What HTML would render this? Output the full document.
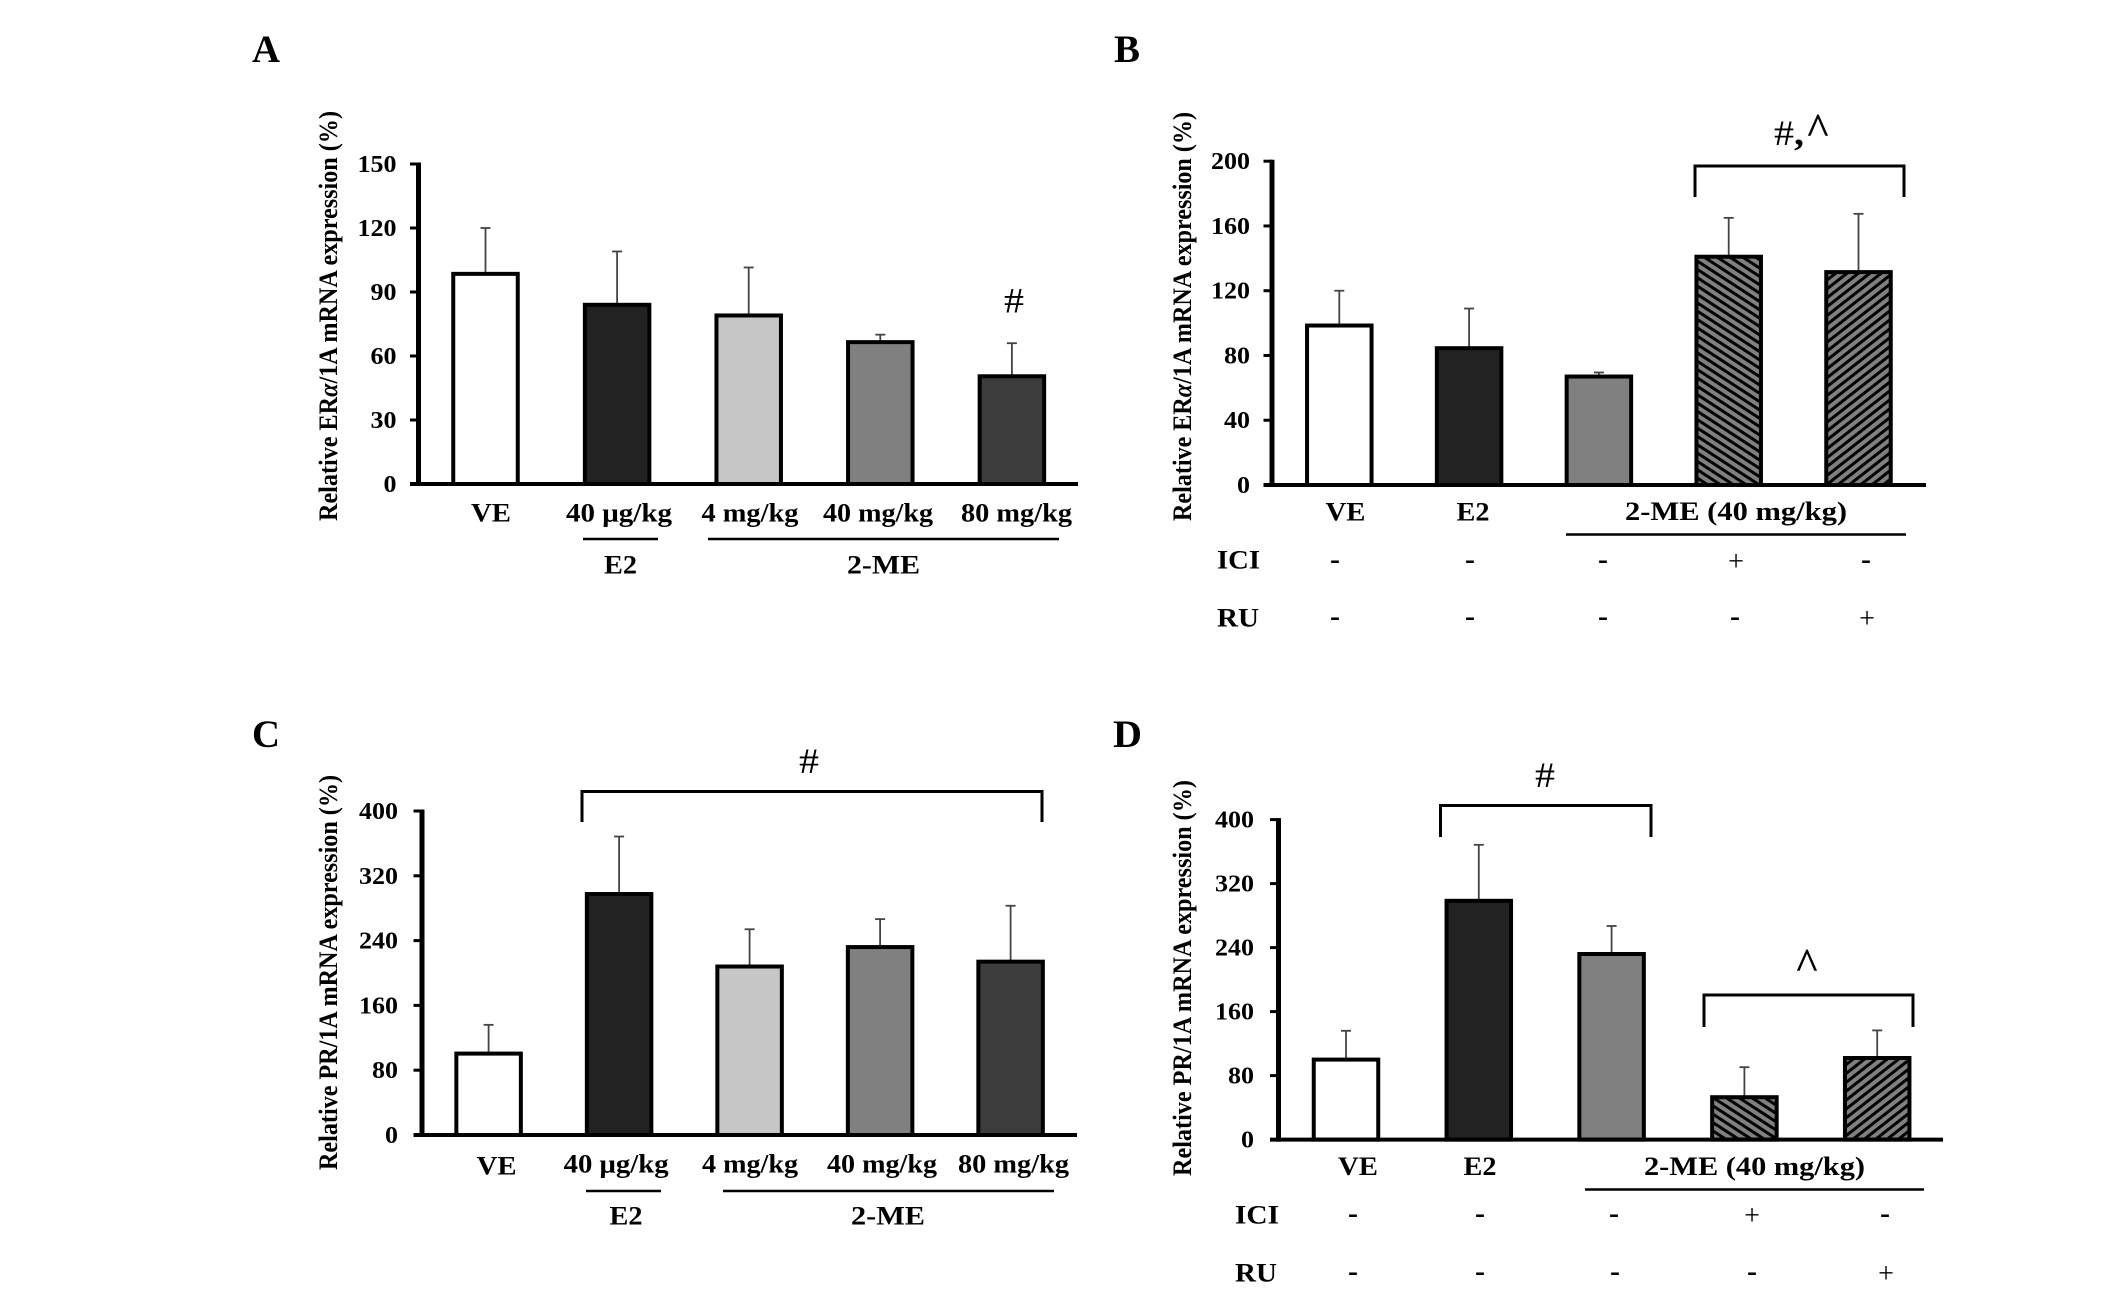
<!DOCTYPE html>
<html>
<head>
<meta charset="utf-8">
<title>Relative mRNA expression bar charts</title>
<style>
html,body{margin:0;padding:0;background:#fff;overflow:hidden;}
svg{display:block;}
text{font-family:"Liberation Serif",serif;fill:#000;}
.l{font-weight:bold;font-size:26px;}
.y{font-weight:bold;font-size:26px;}
.p{font-weight:bold;font-size:39px;}
.m{font-weight:bold;font-size:30px;text-anchor:middle;}
.q{font-size:28px;text-anchor:middle;}
.h{font-size:36px;}
.c{font-size:44px;text-anchor:middle;stroke:#000;stroke-width:.5;}
.r{fill:none;stroke:#000;stroke-width:3;}
.u{stroke:#000;stroke-width:2.6;}
</style>
</head>
<body>
<svg id="figure" xmlns="http://www.w3.org/2000/svg" width="2126" height="1305" viewBox="0 0 2126 1305">
<defs>
<pattern id="hatch-ici" patternUnits="userSpaceOnUse" width="7" height="7" patternTransform="rotate(33)">
<rect width="7" height="7" fill="#808080"/><rect width="7" height="3" fill="#000"/>
</pattern>
<pattern id="hatch-ru" patternUnits="userSpaceOnUse" width="7" height="7" patternTransform="rotate(-38)">
<rect width="7" height="7" fill="#808080"/><rect width="7" height="3" fill="#000"/>
</pattern>
</defs>
<rect width="2126" height="1305" fill="#fff"/>

<text class="p" x="252" y="62" textLength="28" lengthAdjust="spacingAndGlyphs">A</text>
<text class="p" x="1114" y="62" textLength="26" lengthAdjust="spacingAndGlyphs">B</text>
<text class="p" x="252" y="747" textLength="28" lengthAdjust="spacingAndGlyphs">C</text>
<text class="p" x="1113" y="747" textLength="29" lengthAdjust="spacingAndGlyphs">D</text>

<text class="y" transform="translate(337,521) rotate(-90)" textLength="410" lengthAdjust="spacingAndGlyphs">Relative ER<tspan font-style="italic">α</tspan>/1A mRNA expression (%)</text>
<text class="y" transform="translate(1191,521) rotate(-90)" textLength="409" lengthAdjust="spacingAndGlyphs">Relative ER<tspan font-style="italic">α</tspan>/1A mRNA expression (%)</text>
<text class="y" transform="translate(337,1170) rotate(-90)" textLength="395" lengthAdjust="spacingAndGlyphs">Relative PR/1A mRNA expression (%)</text>
<text class="y" transform="translate(1191,1176) rotate(-90)" textLength="396" lengthAdjust="spacingAndGlyphs">Relative PR/1A mRNA expression (%)</text>

<!-- Panel A labels -->
<g>
<text class="l" x="471" y="521.5" textLength="40" lengthAdjust="spacingAndGlyphs">VE</text>
<text class="l" x="566" y="521.5" textLength="106" lengthAdjust="spacingAndGlyphs">40 μg/kg</text>
<text class="l" x="701.5" y="521.5" textLength="97" lengthAdjust="spacingAndGlyphs">4 mg/kg</text>
<text class="l" x="823" y="521.5" textLength="110" lengthAdjust="spacingAndGlyphs">40 mg/kg</text>
<text class="l" x="961" y="521.5" textLength="111" lengthAdjust="spacingAndGlyphs">80 mg/kg</text>
<line class="u" x1="583" x2="658" y1="539" y2="539"/>
<line class="u" x1="708" x2="1059" y1="539" y2="539"/>
<text class="l" x="604" y="573.5" textLength="33" lengthAdjust="spacingAndGlyphs">E2</text>
<text class="l" x="847" y="573.5" textLength="73" lengthAdjust="spacingAndGlyphs">2-ME</text>
</g>
<text class="h" x="1004" y="312.5" textLength="20" lengthAdjust="spacingAndGlyphs">#</text>

<!-- Panel B labels -->
<g>
<text class="l" x="1325.5" y="520.5" textLength="40" lengthAdjust="spacingAndGlyphs">VE</text>
<text class="l" x="1456.5" y="520.5" textLength="33" lengthAdjust="spacingAndGlyphs">E2</text>
<text class="l" x="1625" y="520" textLength="222" lengthAdjust="spacingAndGlyphs">2-ME (40 mg/kg)</text>
<line class="u" x1="1566" x2="1906" y1="534.5" y2="534.5"/>
<text class="l" x="1217" y="568.5" textLength="43" lengthAdjust="spacingAndGlyphs">ICI</text>
<text class="l" x="1217" y="626.5" textLength="42" lengthAdjust="spacingAndGlyphs">RU</text>
<text class="m" x="1335" y="568.5">-</text>
<text class="m" x="1470" y="568.5">-</text>
<text class="m" x="1603" y="568.5">-</text>
<text class="q" x="1736" y="570.5">+</text>
<text class="m" x="1866" y="568.5">-</text>
<text class="m" x="1335" y="625.5">-</text>
<text class="m" x="1470" y="625.5">-</text>
<text class="m" x="1603" y="625.5">-</text>
<text class="m" x="1735" y="625.5">-</text>
<text class="q" x="1867" y="627.5">+</text>
</g>
<path class="r" d="M1695 197V166H1904V197"/>
<text class="h" x="1774" y="145" textLength="30" lengthAdjust="spacingAndGlyphs">#<tspan font-weight="bold">,</tspan></text>
<text class="c" x="1818" y="144">^</text>

<!-- Panel C labels -->
<g>
<text class="l" x="476.6" y="1174.5" textLength="40" lengthAdjust="spacingAndGlyphs">VE</text>
<text class="l" x="563.6" y="1172.5" textLength="105" lengthAdjust="spacingAndGlyphs">40 μg/kg</text>
<text class="l" x="702" y="1172.5" textLength="96" lengthAdjust="spacingAndGlyphs">4 mg/kg</text>
<text class="l" x="827" y="1172.5" textLength="110" lengthAdjust="spacingAndGlyphs">40 mg/kg</text>
<text class="l" x="958" y="1172.5" textLength="111" lengthAdjust="spacingAndGlyphs">80 mg/kg</text>
<line class="u" x1="586" x2="661" y1="1191" y2="1191"/>
<line class="u" x1="723" x2="1054" y1="1191" y2="1191"/>
<text class="l" x="609.5" y="1224.5" textLength="33" lengthAdjust="spacingAndGlyphs">E2</text>
<text class="l" x="851" y="1224.5" textLength="74" lengthAdjust="spacingAndGlyphs">2-ME</text>
</g>
<path class="r" d="M582 822V791.5H1042V822"/>
<text class="h" x="799" y="773" textLength="20" lengthAdjust="spacingAndGlyphs">#</text>

<!-- Panel D labels -->
<g>
<text class="l" x="1338" y="1175" textLength="40" lengthAdjust="spacingAndGlyphs">VE</text>
<text class="l" x="1463.5" y="1175" textLength="33" lengthAdjust="spacingAndGlyphs">E2</text>
<text class="l" x="1644" y="1175" textLength="221" lengthAdjust="spacingAndGlyphs">2-ME (40 mg/kg)</text>
<line class="u" x1="1585" x2="1924" y1="1189.5" y2="1189.5"/>
<text class="l" x="1235" y="1223.5" textLength="44" lengthAdjust="spacingAndGlyphs">ICI</text>
<text class="l" x="1235" y="1281.5" textLength="42" lengthAdjust="spacingAndGlyphs">RU</text>
</g>
<path class="r" d="M1440.5 837V805.5H1651V837"/>
<text class="h" x="1535" y="787" textLength="20" lengthAdjust="spacingAndGlyphs">#</text>
<path class="r" d="M1704 1027V995H1913V1027"/>
<text class="c" x="1807" y="979">^</text>
</svg>

<script>
/* Chart data */
const panelATicks = [0, 30, 60, 90, 120, 150];
const panelAGroups = ['VE', 'E2 40 ug/kg', '2-ME 4 mg/kg', '2-ME 40 mg/kg', '2-ME 80 mg/kg'];
const panelAValues = [98.5, 84, 79, 66.5, 50.5];
const panelAErrorTops = [120, 109, 101.5, 70, 66];

const panelBTicks = [0, 40, 80, 120, 160, 200];
const panelBGroups = ['VE', 'E2', '2-ME', '2-ME + ICI', '2-ME + RU'];
const panelBValues = [98.5, 84.5, 67, 141, 131.5];
const panelBErrorTops = [120, 109, 69.5, 165, 167.5];

const panelCTicks = [0, 80, 160, 240, 320, 400];
const panelCGroups = ['VE', 'E2 40 ug/kg', '2-ME 4 mg/kg', '2-ME 40 mg/kg', '2-ME 80 mg/kg'];
const panelCValues = [100.5, 297.5, 208, 232, 214];
const panelCErrorTops = [136, 368.5, 254, 266.5, 283];

const panelDTicks = [0, 80, 160, 240, 320, 400];
const panelDGroups = ['VE', 'E2', '2-ME', '2-ME + ICI', '2-ME + RU'];
const panelDValues = [100, 298.5, 232, 53, 102];
const panelDErrorTops = [136, 368.5, 267, 90.5, 136.5];

const panelDIciMarks = ['-', '-', '-', '+', '-'];
const panelDRuMarks = ['-', '-', '-', '-', '+'];

const fillsDose = ['#ffffff', '#222222', '#c6c6c6', '#808080', '#3c3c3c'];
const fillsInhibitor = ['#ffffff', '#222222', '#808080', 'url(#hatch-ici)', 'url(#hatch-ru)'];

const SVG_NS = 'http://www.w3.org/2000/svg';
const fig = document.getElementById('figure');

function make(tag, parent) {
  const el = document.createElementNS(SVG_NS, tag);
  parent.appendChild(el);
  return el;
}
function set(el, attrs) {
  for (const k in attrs) el.setAttribute(k, attrs[k]);
  return el;
}

function drawPanel(id, layout, ticks, groups, values, errorTops, fills) {
  const maxTick = ticks[ticks.length - 1];
  const yScale = v => layout.y0 - (v / maxTick) * (layout.y0 - layout.yMax);
  const xScale = i => layout.first + i * layout.step;
  const barWidth = 64.5;

  const g = make('g', fig);
  
  

  groups.forEach((name, i) => {
    const errLine = make('line', g);
    
    
    set(errLine, {x1: xScale(i), x2: xScale(i), y1: yScale(values[i]), y2: yScale(errorTops[i]), stroke: '#444', 'stroke-width': 1.8});
    const errCap = make('line', g);
    
    
    set(errCap, {x1: xScale(i) - 5, x2: xScale(i) + 5, y1: yScale(errorTops[i]), y2: yScale(errorTops[i]), stroke: '#444', 'stroke-width': 1.8});
    const bar = make('rect', g);
    
    
    set(bar, {x: xScale(i) - barWidth / 2, y: yScale(values[i]), width: barWidth, height: layout.y0 - yScale(values[i]), fill: fills[i], stroke: '#000', 'stroke-width': 4});
  });

  const yAxis = make('line', g);
  
  
  set(yAxis, {x1: layout.axisX, x2: layout.axisX, y1: layout.yMax - 1.5, y2: layout.y0 + 2, stroke: '#000', 'stroke-width': 5});

  const xAxis = make('line', g);
  
  
  set(xAxis, {x1: layout.axisX - 8.5, x2: layout.xEnd, y1: layout.y0, y2: layout.y0, stroke: '#000', 'stroke-width': 4});

  ticks.forEach(t => {
    const tick = make('line', g);
    
    
    set(tick, {x1: layout.axisX - 8.5, x2: layout.axisX, y1: yScale(t), y2: yScale(t), stroke: '#000', 'stroke-width': 3});
    const label = make('text', g);
    
    
    set(label, {x: layout.labelX, y: yScale(t) + 8, 'text-anchor': 'end', 'font-weight': 'bold', 'font-size': 24, textLength: String(t).length * 13, lengthAdjust: 'spacingAndGlyphs'});
    label.textContent = t;
  });
}

function drawMarks(marks, rowName, y, xs) {
  marks.forEach((mark, i) => {
    const t = make('text', fig);
    
    
    t.setAttribute('class', mark === '+' ? 'q' : 'm');
    t.setAttribute('x', xs[i]);
    t.setAttribute('y', mark === '+' ? y + 8 : y + 6);
    t.textContent = mark;
  });
}

drawPanel('panel-a', {axisX: 418.5, y0: 484, yMax: 164, xEnd: 1078, first: 485.5, step: 131.6, labelX: 396.5}, panelATicks, panelAGroups, panelAValues, panelAErrorTops, fillsDose);
drawPanel('panel-b', {axisX: 1272, y0: 485, yMax: 161.2, xEnd: 1926, first: 1339.3, step: 129.8, labelX: 1250}, panelBTicks, panelBGroups, panelBValues, panelBErrorTops, fillsInhibitor);
drawPanel('panel-c', {axisX: 422, y0: 1135, yMax: 811, xEnd: 1077, first: 488.6, step: 130.5, labelX: 398}, panelCTicks, panelCGroups, panelCValues, panelCErrorTops, fillsDose);
drawPanel('panel-d', {axisX: 1278.5, y0: 1139.6, yMax: 819.6, xEnd: 1943, first: 1346, step: 132.8, labelX: 1254}, panelDTicks, panelDGroups, panelDValues, panelDErrorTops, fillsInhibitor);

drawMarks(panelDIciMarks, 'panel-d-ici', 1216.5, [1353, 1480, 1614, 1752, 1885]);
drawMarks(panelDRuMarks, 'panel-d-ru', 1274.5, [1353, 1480, 1615, 1752, 1886]);
</script>
</body>
</html>
